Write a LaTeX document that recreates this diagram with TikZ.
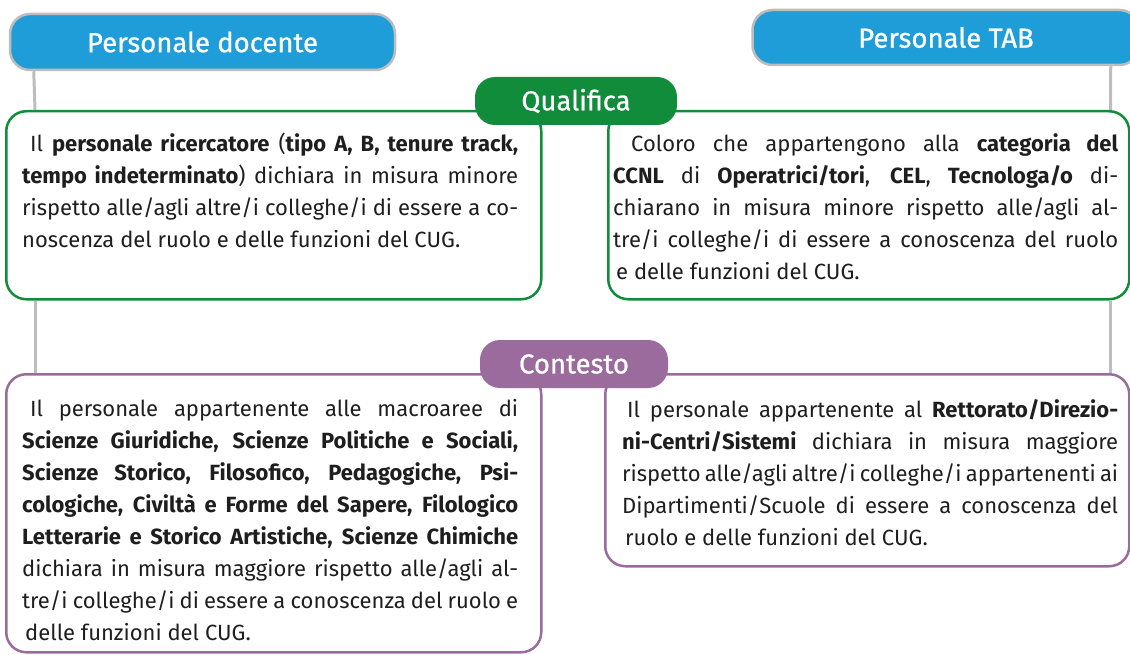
\documentclass[tikz,border=0pt]{standalone}
\usepackage{fontspec}
\setmainfont{Fira Sans}
\newfontfamily\headfont{Fira Sans}[FakeBold=0.8]
\usetikzlibrary{positioning}

\definecolor{headblue}{HTML}{1F9DD8}
\definecolor{headrim}{HTML}{BDBDBD}
\definecolor{qualgreen}{HTML}{108C3B}
\definecolor{contpurple}{HTML}{9A6B9C}
\definecolor{bodytext}{HTML}{1E1E1E}

\hbadness=10000

\begin{document}
\begin{tikzpicture}[x=1pt, y=-1pt,
	header/.style={draw=headrim, line width=2.5pt, fill=headblue, rounded corners=20pt,
		text=white, font=\headfont\fontsize{27.5}{30}\selectfont, inner sep=0pt},
	tab/.style={fill=#1, rounded corners=20pt, text=white,
		font=\headfont\fontsize{27.5}{30}\selectfont, minimum height=48pt, inner sep=0pt},
	panel/.style={draw=#1, line width=2.5pt, rounded corners=20pt, inner sep=0pt, anchor=north west},
	para/.style={text width=#1, align=justify, inner sep=0pt, anchor=north west,
		text=bodytext, font=\fontsize{22}{32}\selectfont},
	link/.style={draw=headrim, line width=3pt}]

	\useasboundingbox (0,0) rectangle (1130,655);

	% headers
	\node [header, minimum width=385pt, minimum height=56pt] (docente) at (202.5,42) {Personale docente};
	\node [header, minimum width=387pt, minimum height=55pt] (tab) at (946,37.5) {Personale TAB};

	% panels
	\node [panel=qualgreen, minimum width=535pt, minimum height=188pt] (qdoc) at (5,110) {};
	\node [panel=qualgreen, minimum width=521pt, minimum height=188pt] (qtab) at (607,110) {};
	\node [panel=contpurple, minimum width=535pt, minimum height=278pt] (cdoc) at (5,373) {};
	\node [panel=contpurple, minimum width=524pt, minimum height=192pt] (ctab) at (604,373) {};

	% gray links
	\draw [link] ([xshift=25pt]docente.south west) -- ([xshift=30pt]qdoc.north west);
	\draw [link] ([xshift=30pt]qdoc.south west) -- ([xshift=30pt]cdoc.north west);
	\draw [link] ([xshift=-30pt]tab.south east) -- ([xshift=-20pt]qtab.north east);
	\draw [link] ([xshift=-20pt]qtab.south east) -- ([xshift=-20pt]ctab.north east);

	% tabs
	\node [tab=qualgreen, minimum width=202pt] (qualifica) at (576,101) {Qualifica};
	\node [tab=contpurple, minimum width=188pt] (contesto) at (574,364) {Contesto};

	% texts
	\node [para=496pt] (tqdoc) at (22,133) {\hspace*{8pt}Il \textbf{personale ricercatore} (\textbf{tipo A, B, tenure track,}\linebreak
		\textbf{tempo indeterminato}) dichiara in misura minore\linebreak
		rispetto alle/agli altre/i colleghe/i di essere a co-\linebreak
		noscenza del ruolo e delle funzioni del CUG.};

	\node [para=505pt] (tqtab) at (613,133) {\hspace*{18pt}Coloro che appartengono alla \textbf{categoria del}\linebreak
		\textbf{CCNL} di \textbf{Operatrici/tori}, \textbf{CEL}, \textbf{Tecnologa/o} di-\linebreak
		chiarano in misura minore rispetto alle/agli al-\linebreak
		tre/i colleghe/i di essere a conoscenza del ruolo\linebreak
		\hspace*{3pt}e delle funzioni del CUG.};

	\node [para=496pt] (tcdoc) at (22,399) {\hspace*{8pt}Il personale appartenente alle macroaree di\linebreak
		\textbf{Scienze Giuridiche, Scienze Politiche e Sociali,}\linebreak
		\textbf{Scienze Storico, Filosofico, Pedagogiche, Psi-}\linebreak
		\textbf{cologiche, Civiltà e Forme del Sapere, Filologico}\linebreak
		\textbf{Letterarie e Storico Artistiche, Scienze Chimiche}\linebreak
		dichiara in misura maggiore rispetto alle/agli al-\linebreak
		tre/i colleghe/i di essere a conoscenza del ruolo e\linebreak
		\hspace*{3pt}delle funzioni del CUG.};

	\node [para=496pt] (tctab) at (622,399) {\hspace*{5pt}Il personale appartenente al \textbf{Rettorato/Direzio-}\linebreak
		\textbf{ni-Centri/Sistemi} dichiara in misura maggiore\linebreak
		rispetto alle/agli altre/i colleghe/i appartenenti ai\linebreak
		Dipartimenti/Scuole di essere a conoscenza del\linebreak
		\hspace*{3pt}ruolo e delle funzioni del CUG.};
\end{tikzpicture}
\end{document}
